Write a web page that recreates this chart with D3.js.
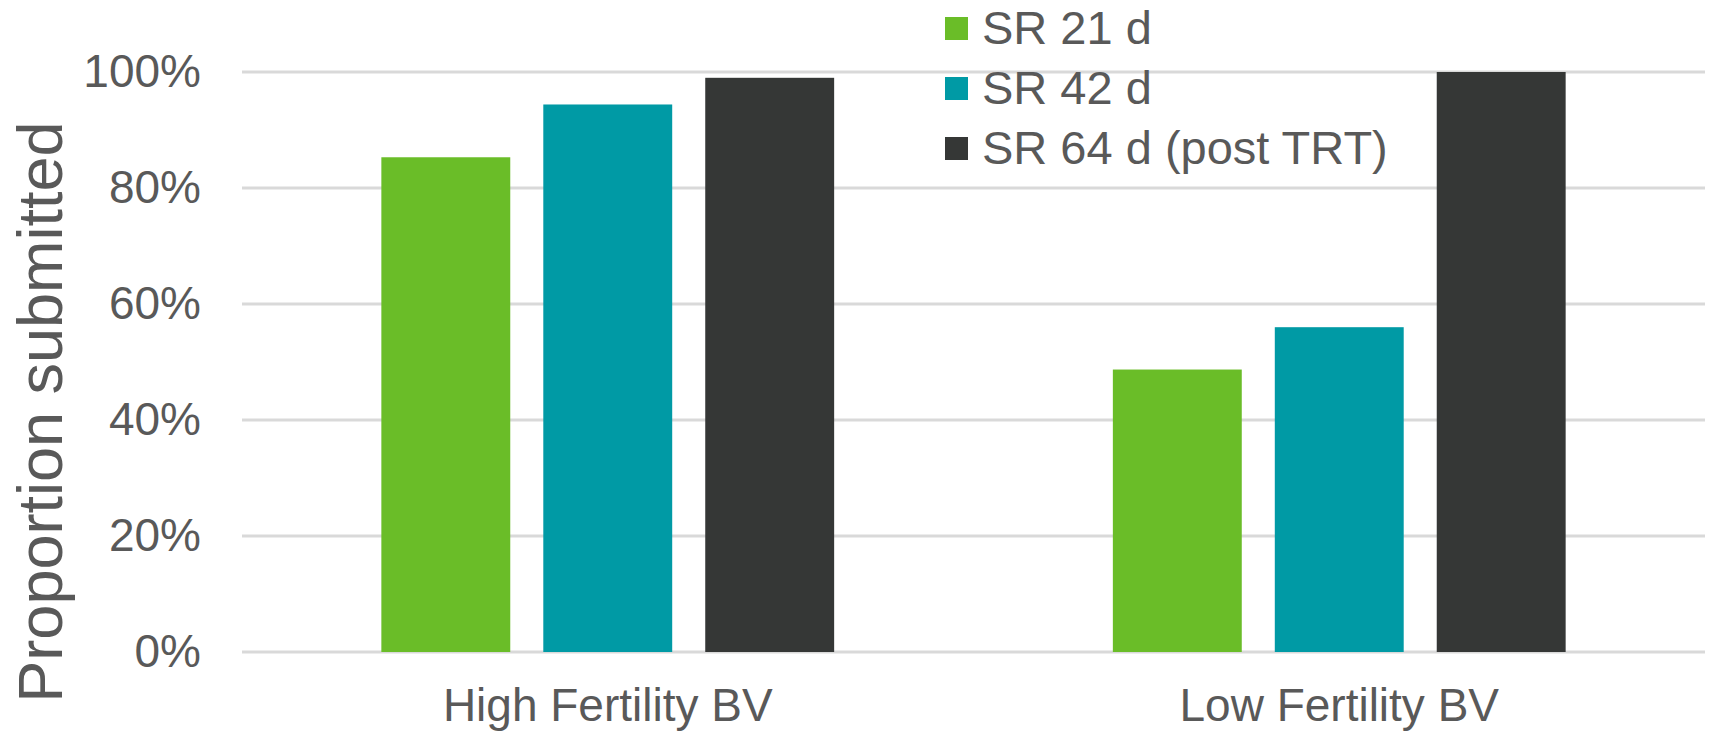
<!DOCTYPE html>
<html>
<head>
<meta charset="utf-8">
<script src="https://cdn.jsdelivr.net/npm/d3@7"></script>
<style>
  html, body { margin: 0; padding: 0; background: #ffffff; }
  svg { display: block; }
  text { font-family: "Liberation Sans", Arial, sans-serif; fill: #595959; }
</style>
</head>
<body>
<svg id="chart" width="1714" height="739"></svg>
<script>
// ---- data ----
const categories = ["High Fertility BV", "Low Fertility BV"];
const seriesNames = ["SR 21 d", "SR 42 d", "SR 64 d (post TRT)"];
const sr21 = [0.853, 0.487];
const sr42 = [0.944, 0.560];
const sr64 = [0.990, 1.000];
const yTicks = [0, 0.2, 0.4, 0.6, 0.8, 1.0];
const yTitle = "Proportion submitted";
const colors = ["#6abd28", "#009aa5", "#353736"];

const seriesValues = [sr21, sr42, sr64];

const svg = d3.select("#chart");
const plot = { left: 242, right: 1705, top: 72, bottom: 652 };

const y = d3.scaleLinear().domain([0, 1]).range([plot.bottom, plot.top]);
const x0 = d3.scaleBand().domain(categories).range([plot.left, plot.right])
  .paddingInner(0.381).paddingOuter(0.1905);
const x1 = d3.scaleBand().domain(seriesNames).range([0, x0.bandwidth()])
  .paddingInner(0.204).paddingOuter(0);
const color = d3.scaleOrdinal().domain(seriesNames).range(colors);

// gridlines
svg.append("g").selectAll("line").data(yTicks).join("line")
  .attr("x1", plot.left).attr("x2", plot.right)
  .attr("y1", d => y(d)).attr("y2", d => y(d))
  .attr("stroke", "#d9d9d9").attr("stroke-width", 3);

// y axis labels
const yAxis = d3.axisLeft(y).tickValues(yTicks).tickFormat(d3.format(".0%")).tickSize(0).tickPadding(0);
const ga = svg.append("g").attr("transform", "translate(201,0)").call(yAxis);
ga.select(".domain").remove();
ga.selectAll("text").attr("font-size", 46).attr("fill", "#595959")
  .attr("font-family", "Liberation Sans, Arial, sans-serif");

// bars
const groups = svg.append("g").selectAll("g").data(categories).join("g")
  .attr("transform", d => `translate(${x0(d)},0)`);
groups.selectAll("rect")
  .data((c, ci) => seriesNames.map((s, si) => ({ s, v: seriesValues[si][ci] })))
  .join("rect")
  .attr("x", d => x1(d.s))
  .attr("width", x1.bandwidth())
  .attr("y", d => y(d.v))
  .attr("height", d => y(0) - y(d.v))
  .attr("fill", d => color(d.s));

// category labels
const xAxis = d3.axisBottom(x0).tickSize(0).tickPadding(0);
const gx = svg.append("g").attr("transform", "translate(0,688)").call(xAxis);
gx.select(".domain").remove();
gx.selectAll("text").attr("font-size", 46).attr("fill", "#595959")
  .attr("font-family", "Liberation Sans, Arial, sans-serif");

// y title
svg.append("text")
  .attr("transform", "translate(62,412) rotate(-90)")
  .attr("text-anchor", "middle")
  .attr("font-size", 63)
  .text(yTitle);

// legend
const leg = svg.append("g").selectAll("g").data(seriesNames).join("g")
  .attr("transform", (d, i) => `translate(945,${28 + i * 60})`);
leg.append("rect").attr("x", 0).attr("y", -11).attr("width", 23).attr("height", 23)
  .attr("fill", d => color(d));
leg.append("text").attr("x", 37).attr("dy", "0.35em").attr("font-size", 47).text(d => d);
</script>
</body>
</html>
